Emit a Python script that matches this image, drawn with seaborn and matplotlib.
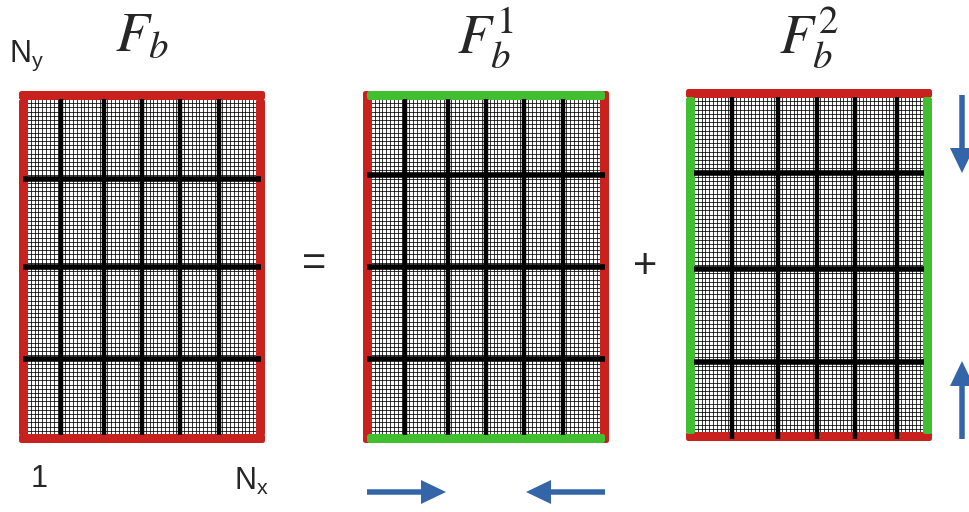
import matplotlib
matplotlib.use('Agg')
import matplotlib.pyplot as plt
import seaborn as sns
from matplotlib.patches import FancyBboxPatch, FancyArrow

sns.set_theme(style='white')
plt.rcParams['font.family'] = ['Liberation Sans', 'DejaVu Sans']

# grid layout of each block (fine cells and coarse blocks)
n_fine_x = 60
n_fine_y = 80
coarse_x_idx = [[9, 20, 30, 40, 50], [9, 20, 30, 40, 50], [10, 22, 32, 42, 53]]
coarse_y_idx = [[19, 40, 62], [18, 40, 62], [18, 41, 63]]

# panels: outer box (left, top, right, bottom) in pixels
panel_titles = [r'$F_b$', r'$F_b^1$', r'$F_b^2$']
panel_left = [19, 363, 686]
panel_top = [91, 91, 89]
panel_right = [265, 609, 932]
panel_bottom = [443, 443, 441]
# border colours: top/bottom and left/right, and which pair lies underneath
edge_tb = ['red', 'green', 'red']
edge_lr = ['red', 'red', 'green']
full_pair = ['tb', 'lr', 'tb']

colors = {'red': '#c9211e', 'green': '#41bf31'}
blue = '#3465a8'
bw = 8  # border width in px

fig = plt.figure(figsize=(9.69, 5.12), dpi=100)
ax = fig.add_axes([0, 0, 1, 1])
ax.set_xlim(0, 969)
ax.set_ylim(512, 0)
ax.axis('off')

for i in range(3):
    L, T, R, B = panel_left[i], panel_top[i], panel_right[i], panel_bottom[i]
    iL, iT, iR, iB = L + bw, T + bw, R - bw, B - bw
    dx = (iR - iL) / n_fine_x
    dy = (iB - iT) / n_fine_y

    # fine grid
    xs = [iL + k * dx for k in range(n_fine_x + 1)]
    ys = [iT + k * dy for k in range(n_fine_y + 1)]
    ax.vlines(xs, iT, iB, color='black', lw=0.55, zorder=1)
    ax.hlines(ys, iL, iR, color='black', lw=0.55, zorder=1)

    # borders
    tb = colors[edge_tb[i]]
    lr = colors[edge_lr[i]]
    top_bot = [(L, T, R - L, bw + 1), (L, B - bw - 1, R - L, bw + 1)]
    sides = [(L, T, bw + 1, B - T), (R - bw - 1, T, bw + 1, B - T)]
    if full_pair[i] == 'tb':
        under = [(r, tb) for r in top_bot]
        over = [((x, y + bw, w, h - 2 * bw + 1), lr) for (x, y, w, h) in sides]
    else:
        under = [(r, lr) for r in sides]
        over = [((x + bw - 4, y, w - 2 * bw + 8, h), tb) for (x, y, w, h) in top_bot]
    for (x, y, w, h), c in under + over:
        ax.add_patch(FancyBboxPatch((x, y), w, h, boxstyle='round,pad=0,rounding_size=2.5',
                                    fc=c, ec='none', zorder=2))

    # coarse lines
    ext = 4 if i < 2 else 0
    cx = [iL + k * dx for k in coarse_x_idx[i]]
    cy = [iT + k * dy for k in coarse_y_idx[i]]
    ax.vlines(cx, iT, iB + (6 if i == 2 else 0), color='black', lw=3.2, zorder=3)
    ax.hlines(cy, iL - ext, iR + ext, color='black', lw=4.0, zorder=3)

    # title
    ax.text((L + R) / 2, 37, panel_titles[i], fontsize=40, math_fontfamily='stix',
            ha='center', va='center', zorder=4)

# labels around first block
ax.text(9, 56, r'N$_\mathregular{y}$', fontsize=22, ha='left', va='center')
ax.text(39, 479, '1', fontsize=22, ha='center', va='center')
ax.text(234, 481, r'N$_\mathregular{x}$', fontsize=22, ha='left', va='center')
ax.text(314, 264, '=', fontsize=30, ha='center', va='center')
ax.text(645, 267, '+', fontsize=30, ha='center', va='center')

# arrows: (x, y, dx, dy)
arrows = [(367, 492, 79, 0), (605, 492, -79, 0), (962, 95, 0, 78), (962, 439, 0, -78)]
for x, y, adx, ady in arrows:
    ax.add_patch(FancyArrow(x, y, adx, ady, width=5.5, head_width=24, head_length=25,
                            length_includes_head=True, fc=blue, ec='none', zorder=4))

fig.savefig('out.png', dpi=100)
